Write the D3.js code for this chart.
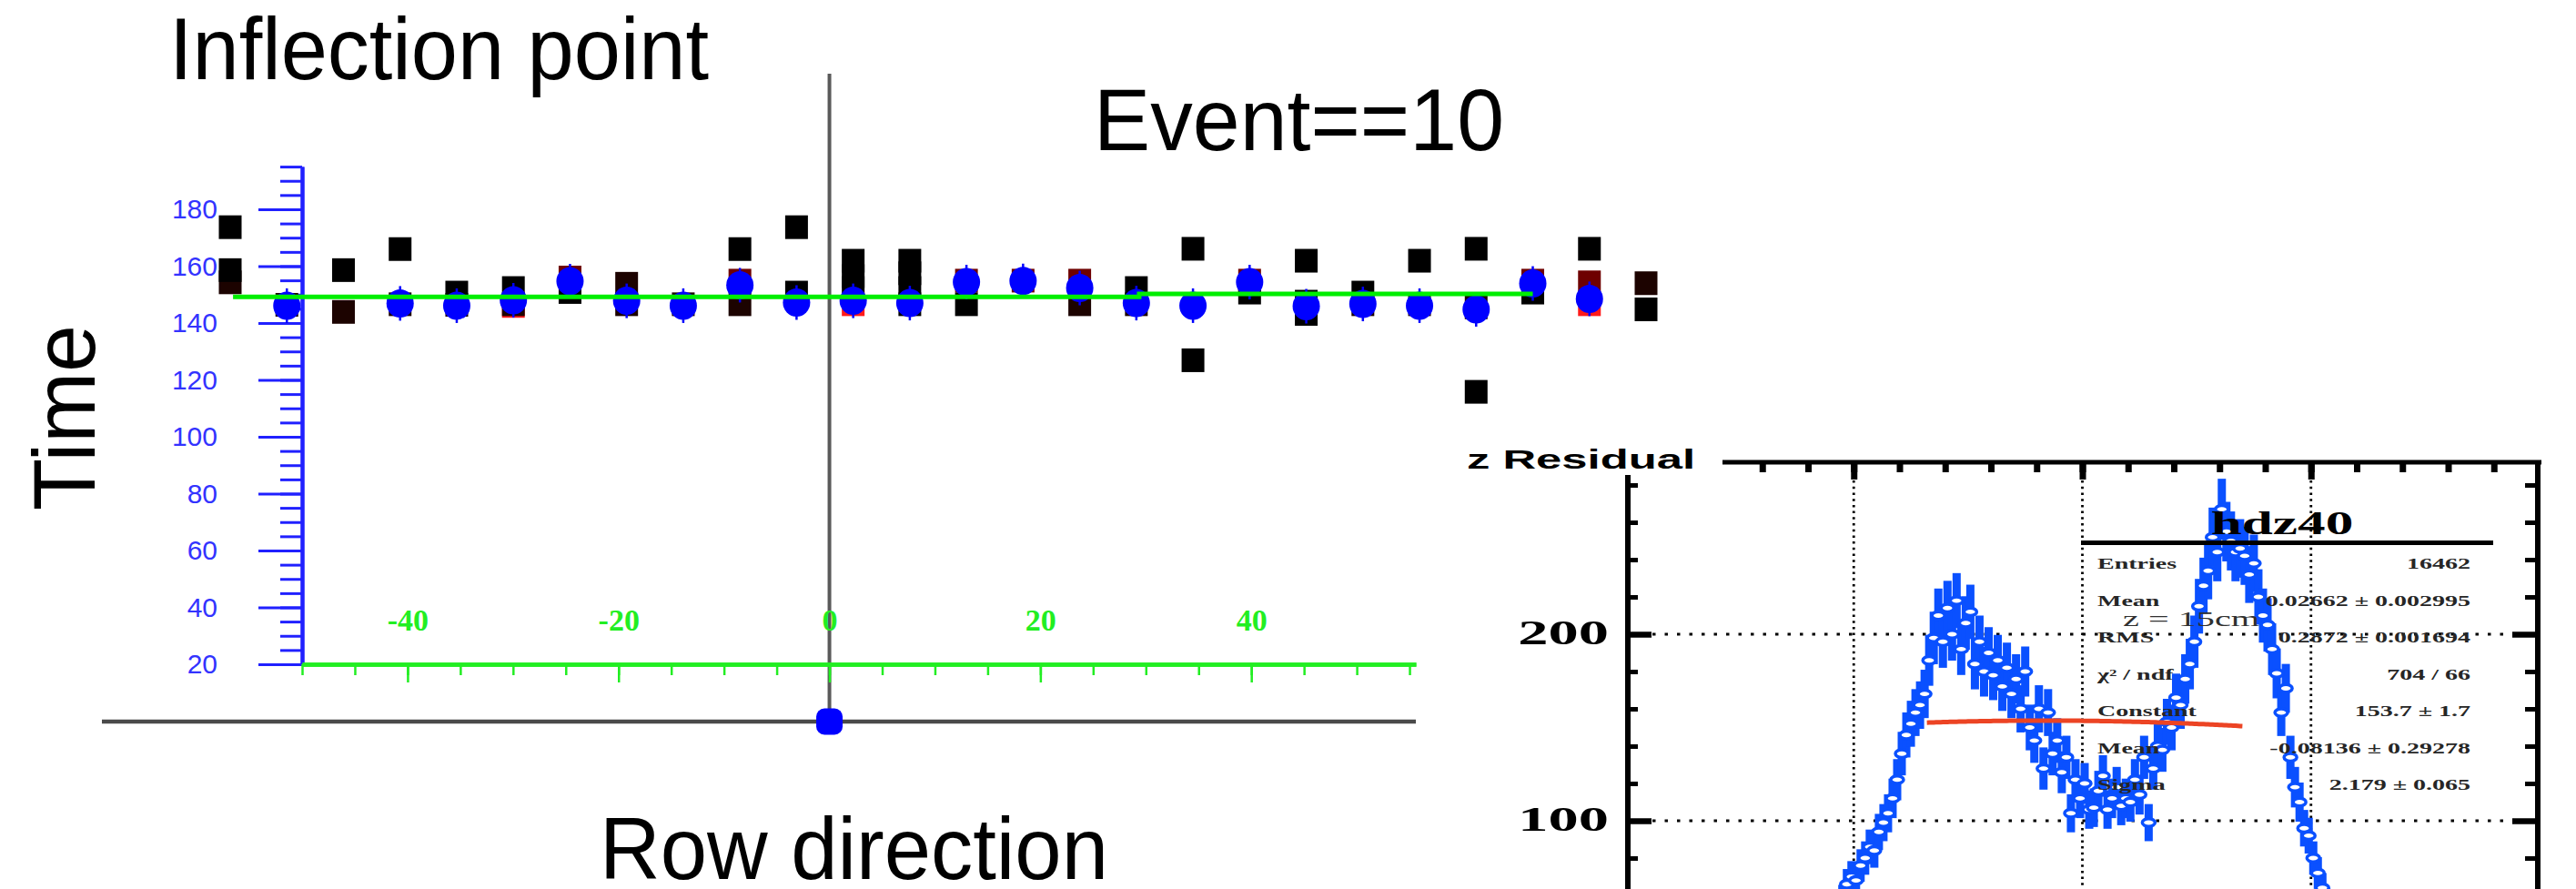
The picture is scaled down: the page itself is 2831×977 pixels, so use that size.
<!DOCTYPE html>
<html>
<head>
<meta charset="utf-8">
<script src="https://cdn.jsdelivr.net/npm/d3@7"></script>
<style>
  html, body { margin: 0; padding: 0; background: #fff; overflow: hidden; }
  svg { display: block; }
</style>
</head>
<body>
<script>
// ---------------- Left panel: hit times along the pad row ----------------
const timeTicks = [20, 40, 60, 80, 100, 120, 140, 160, 180];
const rowTicks = [-40, -20, 0, 20, 40];

// [pad index, time]
const blackHits = [
  [0, 173.7], [0, 158.6], [2, 158.6], [3, 166.0], [4, 150.7], [5, 152.3], [6, 150.9],
  [9, 166.0], [10, 173.7], [10, 150.7], [11, 161.9], [11, 156.5], [11, 152.3],
  [12, 161.9], [12, 157.5], [12, 152.3], [12, 146.6], [13, 146.6], [16, 152.3],
  [17, 166.1], [17, 126.9], [18, 150.7], [19, 161.9], [19, 147.5], [19, 143.2],
  [20, 150.7], [21, 161.9], [22, 166.1], [22, 115.8], [23, 150.7], [24, 166.1], [25, 144.8]
];
const darkHits = [
  [0, 154.3], [1, 146.4], [2, 143.9], [3, 146.6], [4, 146.4], [5, 146.6], [7, 153.8],
  [7, 146.6], [8, 146.6], [9, 146.6], [15, 146.6], [16, 146.6], [20, 146.6],
  [21, 146.6], [22, 145.5], [25, 154.0]
];
const maroonHits = [
  [6, 156.0], [9, 154.9], [13, 154.9], [14, 154.9], [15, 154.9], [18, 154.9], [23, 154.9], [24, 154.3]
];
const redHits = [[5, 146.0], [11, 146.6], [24, 146.6]];
const inflectionTimes = [
  [1, 146.1], [3, 146.9], [4, 146.1], [5, 148.0], [6, 154.7], [7, 147.8], [8, 146.1],
  [9, 153.3], [10, 147.2], [11, 147.8], [12, 147.0], [13, 154.4], [14, 154.8], [15, 152.3],
  [16, 147.0], [17, 146.1], [18, 154.4], [19, 145.9], [20, 146.7], [21, 146.1], [22, 144.8],
  [23, 153.9], [24, 148.5]
];
// straight-line fit of the inflection times: [from pad, to pad, time]
const fitSegments = [[0.05, 16.05, 149.2], [16.05, 23.0, 150.2]];

// ---------------- Right panel: z residual histogram (hdz40) ----------------
const binStart = -0.55, binWidth = 0.01;
const zCounts = [
  42, 50, 58, 66, 70, 68, 76, 80, 86, 84, 94, 99, 104, 112, 122, 136, 146, 152, 158, 162,
  168, 186, 198, 210, 196, 214, 200, 218, 192, 206, 212, 184, 196, 180, 190, 178, 186, 172,
  182, 168, 176, 160, 180, 150, 143, 160, 128, 158, 136, 143, 126, 134, 104, 122, 112,
  120, 106, 107, 116, 124, 106, 112, 118, 108, 112, 110, 122, 114, 134, 99, 128, 140, 138,
  153, 150, 166, 162, 176, 184, 196, 215, 226, 234, 252, 244, 267, 255, 250, 244, 246, 242,
  232, 238, 220, 210, 205, 192, 179, 158, 171, 134, 118, 110, 96, 92, 80, 72, 64, 56, 48
];
const fitConstant = 153.7, fitMean = -0.08136, fitSigma = 2.179;
const fitRange = [-0.34, 0.35];
const statLabels = ["Entries", "Mean", "RMS", "\u03c7\u00b2 / ndf", "Constant", "Mean", "Sigma"];
const statValues = ["16462", "0.02662 \u00b1 0.002995", "0.2872 \u00b1 0.001694", "704 / 66",
                    "153.7 \u00b1 1.7", "-0.08136 \u00b1 0.29278", "2.179 \u00b1 0.065"];
const zMajor = [-0.5, 0, 0.5];
const countLabels = [100, 200];

// ---------------- drawing ----------------
const W = 2831, H = 977;
const SANS = "'Liberation Sans', Arial, Helvetica, sans-serif";
const SERIF = "'Liberation Serif', 'Times New Roman', Times, serif";

const svg = d3.select("body").append("svg")
  .attr("width", W).attr("height", H)
  .attr("viewBox", `0 0 ${W} ${H}`);
svg.append("rect").attr("width", W).attr("height", H).attr("fill", "#fff");

// scales
const padX = d3.scaleLinear().domain([0, 25]).range([253, 1809]);
const timeY = d3.scaleLinear().domain([20, 195]).range([730, 183.1]);
const rowX = d3.scaleLinear().domain([-50, 55.6]).range([332, 1556]);

const left = svg.append("g");

// reference lines through the row origin
left.append("line")
  .attr("x1", rowX(0)).attr("x2", rowX(0)).attr("y1", 81).attr("y2", 793)
  .attr("stroke", "#5a5a5a").attr("stroke-width", 4);
left.append("line")
  .attr("x1", 112).attr("x2", rowX(55.6)).attr("y1", 793).attr("y2", 793)
  .attr("stroke", "#4a4a4a").attr("stroke-width", 4.5);
left.append("rect")
  .attr("x", rowX(0) - 14.5).attr("y", 793 - 14.5).attr("width", 29).attr("height", 29)
  .attr("rx", 9).attr("fill", "#0000ff");

// time axis (blue)
const blue = "#2020ff";
const gMinor = left.append("g").attr("transform", "translate(332,0)")
  .call(d3.axisLeft(timeY).tickValues(d3.range(20, 196, 5)).tickSize(24).tickSizeOuter(0).tickFormat(""));
const gMajor = left.append("g").attr("transform", "translate(332,0)")
  .call(d3.axisLeft(timeY).tickValues(timeTicks).tickSize(48).tickSizeOuter(0).tickPadding(45));
[gMinor, gMajor].forEach(g => {
  g.selectAll("line").attr("stroke", blue).attr("stroke-width", 3);
  g.select(".domain").attr("stroke", blue).attr("stroke-width", 4);
});
gMajor.selectAll("text")
  .attr("fill", "#3333ff").style("font-family", SANS).style("font-size", "30px");

// row axis (green)
const green = "#22ee22";
const gx = left.append("g").attr("transform", "translate(0,730)");
const gxMinor = gx.append("g")
  .call(d3.axisBottom(rowX).tickValues(d3.range(-50, 56, 5)).tickSize(12).tickSizeOuter(0).tickFormat(""));
const gxMajor = gx.append("g")
  .call(d3.axisBottom(rowX).tickValues(rowTicks).tickSize(20).tickSizeOuter(0).tickFormat(""));
const gxLab = gx.append("g")
  .call(d3.axisTop(rowX).tickValues(rowTicks).tickSize(0).tickPadding(37).tickFormat(d => String(d)));
[gxMinor, gxMajor].forEach(g => {
  g.selectAll("line").attr("stroke", green).attr("stroke-width", 2.5);
  g.select(".domain").attr("stroke", green).attr("stroke-width", 4.5);
});
gxLab.select(".domain").remove();
gxLab.selectAll("text")
  .attr("fill", green).style("font-family", SERIF).style("font-weight", "bold").style("font-size", "34px");

// hit markers
const SQ_W = 25, SQ_H = 26;
function squares(data, color) {
  left.append("g").selectAll("rect").data(data).join("rect")
    .attr("x", d => padX(d[0]) - SQ_W / 2)
    .attr("y", d => timeY(d[1]) - SQ_H / 2)
    .attr("width", SQ_W).attr("height", SQ_H)
    .attr("fill", color);
}
squares(redHits, "#ff1a1a");
squares(maroonHits, "#6e0000");
squares(darkHits, "#1c0300");
squares(blackHits, "#000000");

// inflection points
const gInf = left.append("g");
gInf.selectAll("line").data(inflectionTimes).join("line")
  .attr("x1", d => padX(d[0])).attr("x2", d => padX(d[0]))
  .attr("y1", d => timeY(d[1]) - 19).attr("y2", d => timeY(d[1]) + 19)
  .attr("stroke", "#0000ff").attr("stroke-width", 2.5);
gInf.selectAll("ellipse").data(inflectionTimes).join("ellipse")
  .attr("cx", d => padX(d[0])).attr("cy", d => timeY(d[1]))
  .attr("rx", 15).attr("ry", 15.5).attr("fill", "#0000ff");

// fit line
left.append("path")
  .attr("d", d3.line()(fitSegments.flatMap(s => [[padX(s[0]), timeY(s[2])], [padX(s[1]), timeY(s[2])]])))
  .attr("fill", "none").attr("stroke", "#00ee00").attr("stroke-width", 5);

// titles
function bigText(str, x, y, len) {
  return svg.append("text").attr("x", x).attr("y", y)
    .attr("textLength", len).attr("lengthAdjust", "spacingAndGlyphs")
    .style("font-family", SANS).style("font-size", "96px").attr("fill", "#000").text(str);
}
bigText("Inflection point", 186, 87, 593);
bigText("Event==10", 1202, 165, 451);
bigText("Row direction", 659, 966, 559);
svg.append("text")
  .attr("transform", "translate(104,459) rotate(-90)")
  .attr("text-anchor", "middle")
  .attr("textLength", 204).attr("lengthAdjust", "spacingAndGlyphs")
  .style("font-family", SANS).style("font-size", "96px").attr("fill", "#000").text("Time");

// ---------------- right panel ----------------
const SX = 1.75;
const zX = d3.scaleLinear().domain([-1, 1]).range([1786, 2791]);
const zY = d3.scaleLinear().domain([100, 200]).range([902, 697]);
const frame = { x0: 1789, x1: 2789, y0: 508, y1: 977 };
const right = svg.append("g");

right.append("clipPath").attr("id", "zclip").append("rect")
  .attr("x", frame.x0).attr("y", frame.y0)
  .attr("width", frame.x1 - frame.x0).attr("height", frame.y1 - frame.y0);

// dotted grid
right.append("g").selectAll("line").data(zMajor).join("line")
  .attr("x1", d => zX(d)).attr("x2", d => zX(d)).attr("y1", frame.y0).attr("y2", frame.y1)
  .attr("stroke", "#000").attr("stroke-width", 2.8).attr("stroke-dasharray", "2.5,4.2");
right.append("g").selectAll("line").data(countLabels).join("line")
  .attr("x1", frame.x0).attr("x2", frame.x1).attr("y1", d => zY(d)).attr("y2", d => zY(d))
  .attr("stroke", "#000").attr("stroke-width", 2.8).attr("stroke-dasharray", "3.5,10");

// histogram points with error bars
const bins = zCounts.map((c, i) => ({ x: binStart + binWidth * (i + 0.5), n: c }));
const hBlue = "#0a50ff";
const gH = right.append("g").attr("clip-path", "url(#zclip)");
gH.selectAll("rect").data(bins).join("rect")
  .attr("x", d => zX(d.x) - 4.5).attr("width", 9)
  .attr("y", d => zY(d.n + Math.sqrt(d.n)))
  .attr("height", d => zY(d.n - Math.sqrt(d.n)) - zY(d.n + Math.sqrt(d.n)))
  .attr("fill", hBlue);
gH.selectAll("ellipse").data(bins).join("ellipse")
  .attr("cx", d => zX(d.x)).attr("cy", d => zY(d.n))
  .attr("rx", 7).attr("ry", 4.2)
  .attr("fill", "#fff").attr("stroke", hBlue).attr("stroke-width", 3.5);

// gaussian fit
const fitPts = d3.range(fitRange[0], fitRange[1] + 1e-9, 0.005)
  .map(x => [zX(x), zY(fitConstant * Math.exp(-0.5 * ((x - fitMean) / fitSigma) ** 2))]);
right.append("path").attr("d", d3.line()(fitPts))
  .attr("fill", "none").attr("stroke", "#ec4424").attr("stroke-width", 5);

// stats box
function sText(g, str, x, y, size, opts = {}) {
  return g.append("text")
    .attr("transform", `translate(${x},${y}) scale(${SX},1)`)
    .attr("text-anchor", opts.anchor || "start")
    .style("font-family", opts.family || SERIF)
    .style("font-weight", opts.weight || "bold")
    .style("font-style", opts.style || "normal")
    .style("font-size", size + "px")
    .attr("fill", opts.fill || "#000")
    .text(str);
}
const gS = right.append("g");
gS.append("line").attr("x1", 2287).attr("x2", 2740).attr("y1", 596.5).attr("y2", 596.5)
  .attr("stroke", "#000").attr("stroke-width", 5);
sText(gS, "hdz40", 2508, 587, 35, { anchor: "middle" });
const statY = d3.scaleLinear().domain([0, 6]).range([625, 868]);
statLabels.forEach((s, i) => sText(gS, s, 2305, statY(i), 16, { fill: "#262626" }));
statValues.forEach((s, i) => sText(gS, s, 2715, statY(i), 16, { fill: "#262626", anchor: "end" }));
sText(gS, "z = 15cm", 2333, 688, 23, { weight: "normal", fill: "#303030" });

// frame and ticks
const fr = right.append("g");
const top1 = fr.append("g").attr("transform", `translate(0,${frame.y0})`)
  .call(d3.axisBottom(zX).tickValues(d3.range(-9, 10).map(i => i / 10)).tickSize(11).tickSizeOuter(0).tickFormat(""));
const top2 = fr.append("g").attr("transform", `translate(0,${frame.y0})`)
  .call(d3.axisBottom(zX).tickValues(zMajor).tickSize(19).tickSizeOuter(0).tickFormat(""));
[top1, top2].forEach(g => {
  g.select(".domain").remove();
  g.selectAll("line").attr("stroke", "#000").attr("stroke-width", 7);
});
const yMinorVals = [80, 120, 140, 160, 180, 220, 240, 260, 280];
const l1 = fr.append("g").attr("transform", `translate(${frame.x0},0)`)
  .call(d3.axisRight(zY).tickValues(yMinorVals).tickSize(11).tickFormat(""));
const l2 = fr.append("g").attr("transform", `translate(${frame.x0},0)`)
  .call(d3.axisRight(zY).tickValues(countLabels).tickSize(26).tickFormat(""));
const r1 = fr.append("g").attr("transform", `translate(${frame.x1},0)`)
  .call(d3.axisLeft(zY).tickValues(yMinorVals).tickSize(14).tickFormat(""));
const r2 = fr.append("g").attr("transform", `translate(${frame.x1},0)`)
  .call(d3.axisLeft(zY).tickValues(countLabels).tickSize(28).tickFormat(""));
[l1, r1].forEach(g => { g.select(".domain").remove(); g.selectAll("line").attr("stroke", "#000").attr("stroke-width", 5); });
[l2, r2].forEach(g => { g.select(".domain").remove(); g.selectAll("line").attr("stroke", "#000").attr("stroke-width", 6.5); });

fr.append("line").attr("x1", frame.x0).attr("x2", 2793).attr("y1", frame.y0).attr("y2", frame.y0)
  .attr("stroke", "#000").attr("stroke-width", 5);
fr.append("line").attr("x1", frame.x0).attr("x2", frame.x0).attr("y1", frame.y0).attr("y2", H + 5)
  .attr("stroke", "#000").attr("stroke-width", 6);
fr.append("line").attr("x1", frame.x1).attr("x2", frame.x1).attr("y1", frame.y0).attr("y2", H + 5)
  .attr("stroke", "#000").attr("stroke-width", 6);

// axis title box and labels
fr.append("rect").attr("x", 1596).attr("y", 478).attr("width", 297).attr("height", 44).attr("fill", "#fff");
sText(fr, "z Residual", 1612, 515, 29, { family: SANS });
countLabels.forEach(v => sText(fr, String(v), 1768, zY(v) + 11, 38, { anchor: "end" }));
</script>
</body>
</html>
